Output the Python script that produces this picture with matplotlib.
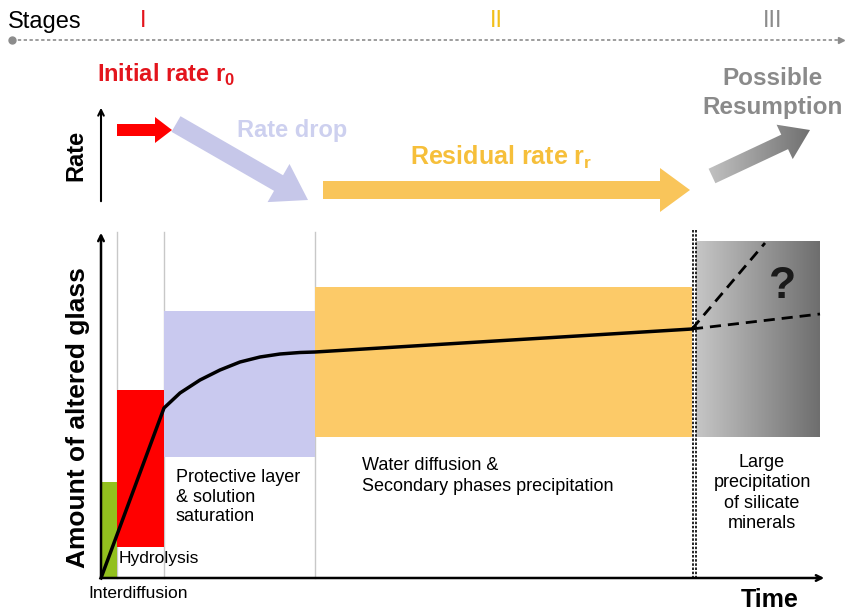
import numpy as np
import matplotlib.pyplot as plt
from matplotlib.patches import Rectangle, FancyArrow
from matplotlib.colors import LinearSegmentedColormap

plt.rcParams['font.family'] = ['Liberation Sans', 'DejaVu Sans']
plt.rcParams['mathtext.fontset'] = 'custom'
plt.rcParams['mathtext.rm'] = 'Liberation Sans'
plt.rcParams['mathtext.bf'] = 'Liberation Sans:bold'

# Data (schematic units: x = time, y = page position, top = 0)
stage_labels = ["I", "II", "III"]
stage_x = [143, 496, 773]
stage_colors = ["#e3141c", "#f2c01a", "#8c8c8c"]

box_left = [101, 117, 164, 315]
box_right = [117, 164, 315, 692]
box_top = [482, 390, 311, 287]
box_bottom = [578, 547, 457, 437]
box_colors = ["#92c01e", "#ff0000", "#c9c9ef", "#fcca68"]
gray_box = [696, 820, 241, 437]  # left, right, top, bottom

divider_x = [117, 164, 315]

curve_x = [101, 164, 180, 200, 220, 240, 260, 280, 300, 315, 692]
curve_y = [578, 408, 393, 380, 370, 362, 357, 354, 352.5, 352, 329]
resume_x = [[692, 765], [692, 820]]
resume_y = [[329, 243], [329, 314]]

# rate arrows: (x0, y0, x1, y1, shaft width, head width, head length, colour)
rate_arrows = [
    (117, 130, 172, 130, 12, 26, 17, "#ff0000"),
    (176, 124, 308, 200, 18, 44, 34, "#c6c7e9"),
    (323, 190, 690, 190, 18, 44, 30, "#f9c55a"),
]
resume_arrow = (712, 176, 810, 130, 16, 38, 28)

fig = plt.figure(figsize=(8.5, 6.12), dpi=100)
ax = fig.add_axes([0, 0, 1, 1])
ax.set_axis_off()

narrow = ['Liberation Sans Narrow', 'Liberation Sans', 'DejaVu Sans']

# stages line
ax.plot([12, 838], [40, 40], color="#8c8c8c", lw=1.2, ls=(0, (2, 1.5)))
ax.plot([12], [40], "o", color="#8c8c8c", ms=5)
ax.plot([841], [40], ">", color="#8c8c8c", ms=5)
ax.text(8, 22, "Stages", fontsize=17, va="center", ha="left", family=narrow)
for lab, x, c in zip(stage_labels, stage_x, stage_colors):
    ax.text(x, 21, lab, fontsize=17, color=c, va="center", ha="center",
            family=narrow)

# rate section
ax.annotate("", xy=(101, 105), xytext=(101, 204),
            arrowprops=dict(arrowstyle="->", lw=1.5, color="black"))
ax.text(76, 155, "Rate", rotation=90, fontsize=17, fontweight="bold",
        va="center", ha="center")
for x0, y0, x1, y1, w, hw, hl, c in rate_arrows:
    ax.add_patch(FancyArrow(x0, y0, x1 - x0, y1 - y0, width=w, head_width=hw,
                            head_length=hl, length_includes_head=True,
                            color=c, lw=0))

gcmap = LinearSegmentedColormap.from_list("g", ["#c8c8c8", "#6c6c6c"])
x0, y0, x1, y1, w, hw, hl = resume_arrow
arr = FancyArrow(x0, y0, x1 - x0, y1 - y0, width=w, head_width=hw,
                 head_length=hl, length_includes_head=True,
                 facecolor="none", edgecolor="none")
ax.add_patch(arr)
im = ax.imshow(np.linspace(0, 1, 256)[None, :], cmap=gcmap, aspect="auto",
               extent=[700, 815, 200, 110], zorder=2)
im.set_clip_path(arr)

ax.text(97, 75, r"Initial rate r$_\mathbf{0}$", fontsize=17, fontweight="bold",
        color="#e3141c", va="center", ha="left")
ax.text(237, 130, "Rate drop", fontsize=17, fontweight="bold",
        color="#cdd0ef", va="center", ha="left")
ax.text(410, 157, r"Residual rate r$_\mathbf{r}$", fontsize=18, fontweight="bold",
        color="#f6bf3a", va="center", ha="left")
ax.text(773, 93, "Possible\nResumption", fontsize=17.5, fontweight="bold",
        color="#8a8a8a", va="center", ha="center", linespacing=1.3)

# main plot boxes
for l, r, t, b, c in zip(box_left, box_right, box_top, box_bottom, box_colors):
    ax.add_patch(Rectangle((l, t), r - l, b - t, color=c, lw=0, zorder=1))
gl, gr, gt, gb = gray_box
ax.imshow(np.linspace(0, 1, 256)[None, :],
          cmap=LinearSegmentedColormap.from_list("b", ["#c6c6c6", "#6e6e6e"]),
          aspect="auto", extent=[gl, gr, gb, gt], zorder=1)

for x in divider_x:
    ax.plot([x, x], [232, 578], color="#c8c8c8", lw=1, zorder=0.5)

# double dotted boundary
for x in [693, 696]:
    ax.plot([x, x], [230, 580], color="black", lw=1.2, ls=(0, (1.5, 1)), zorder=3)

# axes arrows
ax.annotate("", xy=(101, 230), xytext=(101, 579),
            arrowprops=dict(arrowstyle="->", lw=1.8, color="black"), zorder=4)
ax.annotate("", xy=(827, 578), xytext=(100, 578),
            arrowprops=dict(arrowstyle="->", lw=1.8, color="black"), zorder=4)

# curve
ax.plot(curve_x, curve_y, color="black", lw=2.5, zorder=5)
for xs, ys in zip(resume_x, resume_y):
    ax.plot(xs, ys, color="black", lw=2, ls=(0, (4, 2.5)), zorder=5)

ax.text(783, 287, "?", fontsize=32, fontweight="bold", va="center",
        ha="center", color="#1a1a1a", zorder=6)

# labels
ax.text(78, 418, "Amount of altered glass", rotation=90, fontsize=19,
        fontweight="bold", va="center", ha="center")
ax.text(770, 600, "Time", fontsize=18, fontweight="bold", va="center",
        ha="center")
ax.text(119, 559, "Hydrolysis", fontsize=12.5, va="center", ha="left", zorder=6)
ax.text(88, 593, "Interdiffusion", fontsize=12.5, va="center", ha="left")
ax.text(176, 497, "Protective layer\n& solution\nsaturation", fontsize=13,
        va="center", ha="left", linespacing=1.2)
ax.text(362, 476, "Water diffusion &\nSecondary phases precipitation",
        fontsize=13, va="center", ha="left", linespacing=1.25)
ax.text(762, 493, "Large\nprecipitation\nof silicate\nminerals", fontsize=13,
        va="center", ha="center", linespacing=1.25)

ax.set_xlim(0, 850)
ax.set_ylim(612, 0)
fig.savefig("out.png", dpi=100)
